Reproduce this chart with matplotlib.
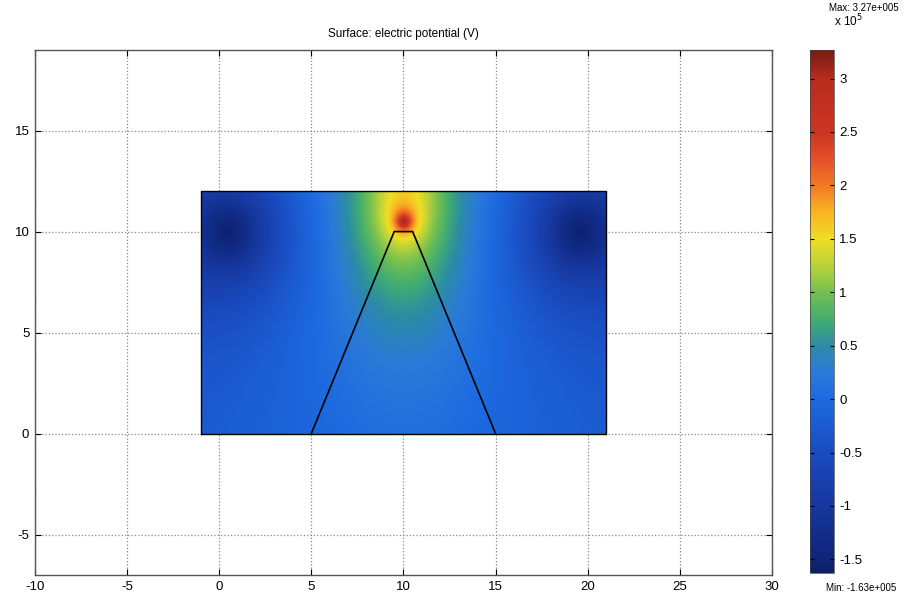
import numpy as np
import matplotlib
matplotlib.use("Agg")
import matplotlib.pyplot as plt
from matplotlib.colors import LinearSegmentedColormap, Normalize

plt.rcParams.update({
    "font.family": ["Liberation Sans", "DejaVu Sans"],
    "font.size": 9,
    "axes.unicode_minus": False,
})

# domain and geometry (from the picture)
rect_x = [-1, 21, 21, -1, -1]
rect_y = [0, 0, 12, 12, 0]
trap_x = [5, 9.5, 10.5, 15]
trap_y = [0, 10, 10, 0]

# point sources used to model the potential field, values in 1e5 V
src_x = [10.0, 10.0, 0.5, 19.5]
src_y = [11.6, 10.5, 10.0, 10.0]
src_q = [5.0, 0.7, -3.4, -3.4]
src_core = [2.2, 0.4, 2.2, 2.2]
src_decay = [1e3, 0.8, 9.0, 9.0]
src_yscale = [0.6, 1.0, 1.0, 1.0]
offset = -0.5

vmin, vmax = -1.63, 3.27

# colormap
cmap_vals = [-1.63, -1.5, -1.0, -0.5, 0.0, 0.25, 0.5, 0.75, 1.0, 1.25, 1.5,
             1.75, 2.0, 2.25, 2.5, 3.0, 3.27]
cmap_cols = ["#0b1f66", "#0e2578", "#16379e", "#1a4cc0", "#1d6ae0", "#2a7ad8",
             "#2c8ca4", "#42ad70", "#74c050", "#b8d23a", "#f0de22", "#f8b424",
             "#f27a24", "#e4502a", "#cc3524", "#b72c1e", "#7a1c12"]
pos = [(v - vmin) / (vmax - vmin) for v in cmap_vals]
cmap = LinearSegmentedColormap.from_list("comsol", list(zip(pos, cmap_cols)))

xs = np.linspace(-1, 21, 440)
ys = np.linspace(0, 12, 240)
X, Y = np.meshgrid(xs, ys)
V = np.full_like(X, offset)
for x0, y0, q, a, L, ky in zip(src_x, src_y, src_q, src_core, src_decay, src_yscale):
    r = np.sqrt((X - x0) ** 2 + (ky * (Y - y0)) ** 2)
    V += q * np.exp(-r / L) / np.sqrt(r ** 2 + a ** 2)

fig = plt.figure(figsize=(9.19, 5.99), dpi=100)
ax = fig.add_axes([0.038, 0.040, 0.802, 0.877])
im = ax.imshow(V, extent=[-1, 21, 0, 12], origin="lower", cmap=cmap,
               norm=Normalize(vmin, vmax), interpolation="bilinear",
               aspect="auto", zorder=2)
ax.plot(rect_x, rect_y, color="black", lw=1.0, zorder=3)
ax.plot(trap_x, trap_y, color="black", lw=1.2, zorder=3)

ax.set_xlim(-10, 30)
ax.set_ylim(-7, 19)
ax.set_xticks(np.arange(-10, 31, 5))
ax.set_yticks(np.arange(-5, 16, 5))
ax.grid(True, color="#888888", linestyle=":", linewidth=0.9, zorder=1)
ax.set_axisbelow(True)
ax.tick_params(direction="in", length=4, top=True, right=True, labelsize=9.5,
               pad=4)
for s in ax.spines.values():
    s.set_color("#555555")
    s.set_linewidth(1.0)
ax.set_title("Surface: electric potential (V)", fontsize=8.5, pad=9)

cax = fig.add_axes([0.881, 0.043, 0.027, 0.874])
cb = fig.colorbar(im, cax=cax, ticks=[3, 2.5, 2, 1.5, 1, 0.5, 0, -0.5, -1, -1.5])
cb.ax.set_yticklabels(["3", "2.5", "2", "1.5", "1", "0.5", "0", "-0.5", "-1", "-1.5"])
cb.ax.tick_params(direction="in", length=3, labelsize=9.5, left=True, right=True)
cb.outline.set_linewidth(0.5)
cb.outline.set_edgecolor("#444444")
fig.text(0.923, 0.965, r"x 10$^5$", ha="center", va="center", fontsize=8.5)
fig.text(0.940, 0.987, "Max: 3.27e+005", ha="center", va="center", fontsize=7)
fig.text(0.937, 0.018, "Min: -1.63e+005", ha="center", va="center", fontsize=7)

fig.savefig("out.png", dpi=100)
